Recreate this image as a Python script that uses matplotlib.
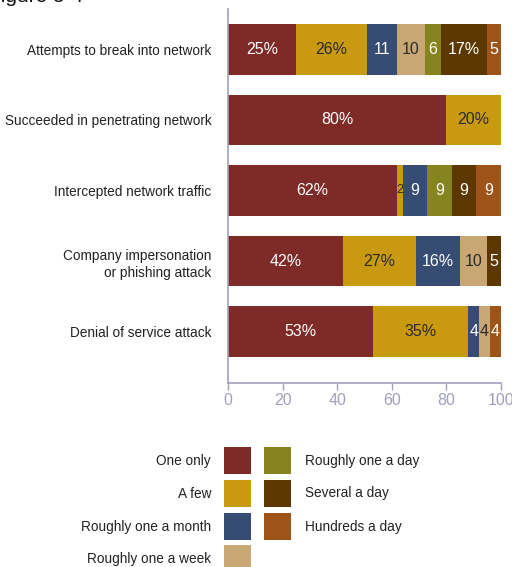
import numpy as np
import matplotlib.pyplot as plt
from matplotlib.patches import Rectangle

# data
categories = ['Attempts to break into network',
              'Succeeded in penetrating network',
              'Intercepted network traffic',
              'Company impersonation\nor phishing attack',
              'Denial of service attack']
series = ['One only', 'A few', 'Roughly one a month', 'Roughly one a week',
          'Roughly one a day', 'Several a day', 'Hundreds a day']
one_only = [25, 80, 62, 42, 53]
a_few = [26, 20, 2, 27, 35]
one_a_month = [11, 0, 9, 16, 4]
one_a_week = [10, 0, 0, 10, 4]
one_a_day = [6, 0, 9, 0, 0]
several_a_day = [17, 0, 9, 5, 0]
hundreds_a_day = [5, 0, 9, 0, 4]
xticks = [0, 20, 40, 60, 80, 100]

colors = ['#7e2a26', '#c99a10', '#374c73', '#c9a774', '#86841f', '#5c3800', '#9e5419']
text_colors = ['white', '#2a2a2a', 'white', '#2a2a2a', 'white', 'white', 'white']

values = [one_only, a_few, one_a_month, one_a_week, one_a_day, several_a_day, hundreds_a_day]

W, H = 512, 567
fig = plt.figure(figsize=(W / 100, H / 100), dpi=100)
font = ['Liberation Sans', 'DejaVu Sans']
axis_col = '#a0a0bd'
lab_size = 9.8

ax = fig.add_axes([228 / W, (H - 383) / H, 273 / W, 374 / H])
y = np.arange(len(categories))
left = np.zeros(len(categories))
for vals, c, tc in zip(values, colors, text_colors):
    vals = np.array(vals, dtype=float)
    ax.barh(y, vals, left=left, height=0.72, color=c, linewidth=0)
    for yi, v, l in zip(y, vals, left):
        if v <= 0:
            continue
        lab = f'{int(v)}%' if v >= 15 else f'{int(v)}'
        fs = 11.5 if v >= 3 else 9
        ax.text(l + v / 2, yi, lab, ha='center', va='center', color=tc,
                fontsize=fs, family=font)
    left += vals

ax.set_xlim(0, 100)
ax.set_ylim(4.73, -0.574)
ax.set_yticks(y)
ax.set_yticklabels(categories, family=font, fontsize=lab_size, color='#222222',
                   linespacing=1.35)
ax.tick_params(axis='y', length=0, pad=12)
ax.set_xticks(xticks)
ax.set_xticklabels([str(t) for t in xticks], family=font, fontsize=11.5, color=axis_col)
ax.tick_params(axis='x', length=5, width=1, color=axis_col, pad=2)
for s in ['top', 'right']:
    ax.spines[s].set_visible(False)
for s in ['left', 'bottom']:
    ax.spines[s].set_color(axis_col)
    ax.spines[s].set_linewidth(1.2)

# cropped figure title
fig.text(-12 / W, 1 - 2 / H, 'Figure 5-4', ha='left', va='baseline',
         fontsize=15, color='#111111', family=font)

# legend drawn in pixel coordinates
lax = fig.add_axes([0, 0, 1, 1])
lax.set_xlim(0, W)
lax.set_ylim(H, 0)
lax.axis('off')
row_y = [460.5, 493.5, 526.5, 558.5]
for i, (name, c) in enumerate(zip(series, colors)):
    col, row = (0, i) if i < 4 else (1, i - 4)
    cy = row_y[row]
    x0 = 224 if col == 0 else 264
    lax.add_patch(Rectangle((x0, cy - 13.5), 27, 27, color=c, linewidth=0))
    if col == 0:
        lax.text(211, cy, name, ha='right', va='center', family=font,
                 fontsize=lab_size, color='#222222')
    else:
        lax.text(305, cy, name, ha='left', va='center', family=font,
                 fontsize=lab_size, color='#222222')

fig.savefig('out.png', dpi=100)
